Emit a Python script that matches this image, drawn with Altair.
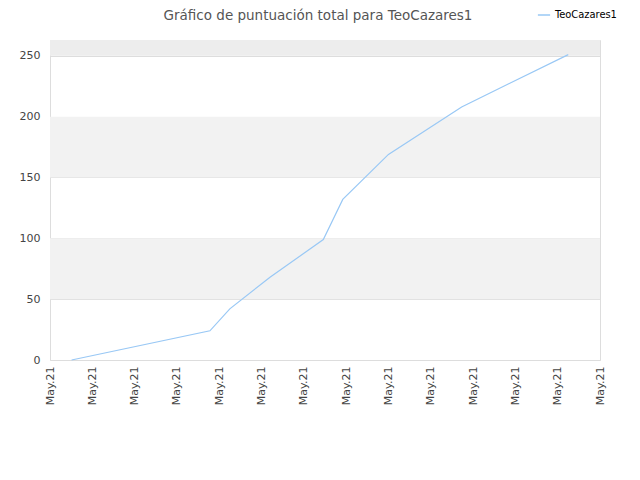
import altair as alt
import pandas as pd

# data
x_pos = [0.51, 3.78, 4.25, 5.2, 6.46, 6.92, 8.0, 9.73, 12.25]
scores = [0, 24, 42, 68, 99, 132, 169, 208, 251]
series = "TeoCazares1"
title_text = "Gráfico de puntuación total para TeoCazares1"
tick_vals = list(range(14))
tick_label = "May.21"
band_lo = [50, 150, 250]
band_hi = [100, 200, 263]
band_col = ["#f2f2f2", "#f2f2f2", "#ededed"]

df = pd.DataFrame({"x": x_pos, "y": scores, "s": [series] * len(x_pos)})
bands = pd.DataFrame({"lo": band_lo, "hi": band_hi, "c": band_col})
titles = pd.DataFrame({"t": [title_text]})

xscale = alt.Scale(domain=[0, 13], nice=False, zero=False)
yscale = alt.Scale(domain=[0, 263], nice=False)

band_layer = alt.Chart(bands).mark_rect().encode(
    x=alt.value(0), x2=alt.value(550),
    y=alt.Y("lo:Q", scale=yscale), y2="hi:Q",
    fill=alt.Fill("c:N", scale=None, legend=None),
)

line = alt.Chart(df).mark_line(strokeWidth=1.2).encode(
    x=alt.X("x:Q", scale=xscale,
            axis=alt.Axis(values=tick_vals, labelExpr=f"'{tick_label}'", labelAngle=-90,
                          title=None, grid=False, ticks=False, domain=False,
                          labelFontSize=11, labelColor="#444", labelPadding=6,
                          labelFont="DejaVu Sans")),
    y=alt.Y("y:Q", scale=yscale,
            axis=alt.Axis(values=[0, 50, 100, 150, 200, 250], title=None, grid=True,
                          gridColor="#dddddd", ticks=False, domain=False,
                          labelFontSize=11, labelColor="#444", labelPadding=10,
                          labelFont="DejaVu Sans")),
    color=alt.Color("s:N", scale=alt.Scale(range=["#99c8f5"]),
                    legend=alt.Legend(title=None, orient="none", legendX=487, legendY=-32,
                                      symbolType="stroke", symbolSize=150, symbolStrokeWidth=1.5,
                                      labelFontSize=11, labelColor="#000",
                                      labelFont="DejaVu Sans Condensed")),
)

title_layer = alt.Chart(titles).mark_text(
    fontSize=13.5, color="#555", font="DejaVu Sans", align="center", baseline="middle"
).encode(text="t:N", x=alt.value(268), y=alt.value(-24))

chart = alt.layer(band_layer, line, title_layer).properties(
    width=550, height=320,
    padding={"left": 42, "top": 32, "right": 32, "bottom": 112},
    autosize=alt.AutoSizeParams(type="none"),
).configure_view(stroke="#dddddd", strokeWidth=1)

chart.save("out.html", embed_options={"renderer": "svg", "actions": False})
